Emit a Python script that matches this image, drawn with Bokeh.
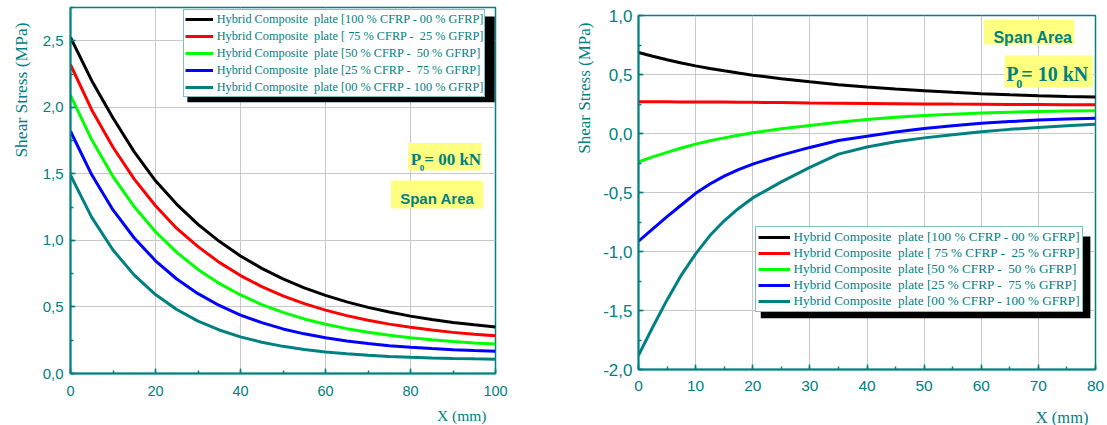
from bokeh.embed import file_html
from bokeh.layouts import row
from bokeh.models import (BoxAnnotation, CustomJSTickFormatter, Label, Range1d,
                          SingleIntervalTicker, Title)
from bokeh.plotting import figure
from bokeh.resources import INLINE

# ---------------------------------------------------------------- data
SERIES_LABELS = [
    "Hybrid Composite  plate [100 % CFRP - 00 % GFRP]",
    "Hybrid Composite  plate [ 75 % CFRP -  25 % GFRP]",
    "Hybrid Composite  plate [50 % CFRP -  50 % GFRP]",
    "Hybrid Composite  plate [25 % CFRP -  75 % GFRP]",
    "Hybrid Composite  plate [00 % CFRP - 100 % GFRP]",
]
SERIES_COLORS = ["#000000", "#ff0000", "#00ff00", "#0000ff", "#008080"]

# P0 = 00 kN, span area (x in mm, shear stress in MPa)
X_P00 = [0, 5, 10, 15, 20, 25, 30, 35, 40, 45, 50, 55, 60, 65, 70, 75, 80, 85, 90, 95, 100]
P00_CFRP100 = [2.525, 2.20, 1.92, 1.665, 1.448, 1.271, 1.121, 0.993, 0.883, 0.790, 0.711,
               0.644, 0.587, 0.538, 0.497, 0.462, 0.431, 0.406, 0.384, 0.366, 0.350]
P00_CFRP75 = [2.32, 1.98, 1.70, 1.46, 1.26, 1.09, 0.953, 0.835, 0.736, 0.653, 0.583,
              0.525, 0.476, 0.435, 0.400, 0.371, 0.347, 0.327, 0.309, 0.295, 0.283]
P00_CFRP50 = [2.09, 1.756, 1.48, 1.253, 1.065, 0.91, 0.782, 0.677, 0.59, 0.518, 0.459,
              0.41, 0.37, 0.337, 0.31, 0.287, 0.268, 0.253, 0.24, 0.23, 0.221]
P00_CFRP25 = [1.82, 1.493, 1.229, 1.018, 0.847, 0.71, 0.60, 0.511, 0.439, 0.382, 0.335,
              0.298, 0.268, 0.244, 0.225, 0.209, 0.197, 0.187, 0.178, 0.172, 0.167]
P00_CFRP0 = [1.49, 1.173, 0.928, 0.739, 0.593, 0.481, 0.394, 0.327, 0.275, 0.235, 0.204,
             0.18, 0.162, 0.148, 0.137, 0.128, 0.122, 0.117, 0.113, 0.11, 0.108]

# P0 = 10 kN, span area
X_P10 = [0, 2.5, 5, 7.5, 10, 12.5, 15, 17.5, 20, 25, 30, 35, 40, 45, 50, 55, 60, 65, 70, 75, 80]
P10_CFRP100 = [0.686, 0.655, 0.625, 0.598, 0.573, 0.551, 0.531, 0.512, 0.494, 0.464, 0.438,
               0.414, 0.394, 0.377, 0.363, 0.349, 0.337, 0.328, 0.320, 0.314, 0.310]
P10_CFRP75 = [0.270, 0.270, 0.269, 0.268, 0.268, 0.267, 0.266, 0.265, 0.264, 0.262, 0.259,
              0.257, 0.255, 0.253, 0.251, 0.249, 0.248, 0.246, 0.245, 0.244, 0.243]
P10_CFRP50 = [-0.240, -0.198, -0.160, -0.123, -0.090, -0.062, -0.037, -0.014, 0.006, 0.040, 0.068,
              0.095, 0.118, 0.137, 0.152, 0.164, 0.173, 0.180, 0.186, 0.190, 0.193]
P10_CFRP25 = [-0.913, -0.808, -0.704, -0.606, -0.507, -0.428, -0.361, -0.307, -0.259, -0.183, -0.118,
              -0.060, -0.023, 0.013, 0.043, 0.066, 0.086, 0.101, 0.114, 0.123, 0.130]
P10_CFRP0 = [-1.879, -1.64, -1.41, -1.20, -1.02, -0.865, -0.74, -0.635, -0.546, -0.41, -0.287,
             -0.175, -0.114, -0.070, -0.037, -0.010, 0.014, 0.035, 0.051, 0.065, 0.078]

Y_TITLE = "Shear Stress (MPa)"
X_TITLE = "X (mm)"

# ---------------------------------------------------------------- style
TEAL = "#008080"
GRID = "#c8c8c8"
YELLOW = "#ffff80"
SANS = "Liberation Sans"
SERIF = "Liberation Serif"

comma_fmt = CustomJSTickFormatter(code="return tick.toFixed(1).replace('.', ',');")


def style_axes(p, xstep, ystep, xtick_size, ytick_size, xstand, ystand):
    p.xaxis[0].ticker = SingleIntervalTicker(interval=xstep, num_minor_ticks=2)
    p.yaxis[0].ticker = SingleIntervalTicker(interval=ystep, num_minor_ticks=2)
    p.yaxis[0].formatter = comma_fmt
    for ax, size, stand in ((p.xaxis[0], xtick_size, xstand), (p.yaxis[0], ytick_size, ystand)):
        ax.axis_line_color = TEAL
        ax.axis_line_width = 2
        ax.major_tick_line_color = TEAL
        ax.major_tick_line_width = 1.5
        ax.minor_tick_line_color = TEAL
        ax.minor_tick_line_width = 1.5
        ax.major_tick_in = 5
        ax.major_tick_out = 0
        ax.minor_tick_in = 3
        ax.minor_tick_out = 0
        ax.major_label_text_color = TEAL
        ax.major_label_text_font = SANS
        ax.major_label_text_font_size = size
        ax.major_label_standoff = stand
    p.xgrid.grid_line_color = GRID
    p.ygrid.grid_line_color = GRID
    p.outline_line_color = TEAL
    p.outline_line_width = 1.5


def style_legend(p, font_size, glyph_w, row_h, gap, pad, loc):
    lg = p.legend[0]
    lg.location = loc
    lg.margin = 0
    lg.padding = pad
    lg.spacing = gap
    lg.glyph_width = glyph_w
    lg.glyph_height = row_h
    lg.label_height = row_h
    lg.label_standoff = 4
    lg.label_text_font = SERIF
    lg.label_text_font_size = font_size
    lg.label_text_color = TEAL
    lg.border_line_color = TEAL
    lg.border_line_width = 1.5
    lg.background_fill_color = "white"
    lg.background_fill_alpha = 1.0


def axis_titles(p, y_offset, y_standoff, y_size, x_offset, x_standoff, x_size):
    p.add_layout(Title(text=Y_TITLE, align="right", offset=y_offset, standoff=y_standoff,
                       text_font=SERIF, text_font_style="normal", text_font_size=y_size,
                       text_color=TEAL), "left")
    p.add_layout(Title(text=X_TITLE, align="right", offset=x_offset, standoff=x_standoff,
                       text_font=SERIF, text_font_style="normal", text_font_size=x_size,
                       text_color=TEAL), "below")


def load_label(p, x, y, load, size, sub_size, sub_dx, sub_dy, rest_dx):
    common = dict(x=x, y=y, text_font=SERIF, text_font_style="bold", text_color=TEAL,
                  text_align="left", text_baseline="alphabetic")
    p.add_layout(Label(text="P", text_font_size=size, **common))
    p.add_layout(Label(text="0", text_font_size=sub_size, x_offset=sub_dx, y_offset=sub_dy, **common))
    p.add_layout(Label(text="= %s kN" % load, text_font_size=size, x_offset=rest_dx, **common))


# ---------------------------------------------------------------- left panel: P0 = 00 kN
p1 = figure(frame_width=425, frame_height=366, x_range=Range1d(0, 100), y_range=Range1d(0, 2.75),
            output_backend="svg", toolbar_location=None, title=None, frame_align=False,
            min_border_left=68, min_border_right=27, min_border_top=7, min_border_bottom=45)
style_axes(p1, 20, 0.5, "14.5px", "15px", 12, 7)
axis_titles(p1, 15, 17, "17.5px", 9, 12, "15.5px")

# drop shadow behind the legend
p1.add_layout(BoxAnnotation(left=27.5, right=99.8, top=2.682, bottom=2.039,
                            fill_color="black", fill_alpha=1, line_color=None))

for ys, col, lab in zip([P00_CFRP100, P00_CFRP75, P00_CFRP50, P00_CFRP25, P00_CFRP0],
                        SERIES_COLORS, SERIES_LABELS):
    p1.line(X_P00, ys, line_color=col, line_width=3, legend_label=lab)
style_legend(p1, "12.3px", 28, 16, 1, 1, (112.7, 276))

p1.add_layout(BoxAnnotation(left=79.46, right=96.7, top=1.731, bottom=1.526,
                            fill_color=YELLOW, fill_alpha=1, line_color=None))
p1.add_layout(BoxAnnotation(left=75.4, right=97.1, top=1.451, bottom=1.239,
                            fill_color=YELLOW, fill_alpha=1, line_color=None))
load_label(p1, 80.07, 1.607, "00", "17px", "9px", 9, -8, 13.4)
p1.add_layout(Label(x=86.3, y=1.314, text="Span Area", text_font=SANS, text_font_style="bold",
                    text_font_size="15px", text_color=TEAL, text_align="center",
                    text_baseline="alphabetic"))

# ---------------------------------------------------------------- right panel: P0 = 10 kN
p2 = figure(frame_width=457, frame_height=354, x_range=Range1d(0, 80), y_range=Range1d(-2, 1),
            output_backend="svg", toolbar_location=None, title=None, frame_align=False,
            min_border_left=116, min_border_right=14, min_border_top=15, min_border_bottom=45)
style_axes(p2, 10, 0.5, "15.5px", "17px", 11, 6)
axis_titles(p2, 7, 13, "17px", 7, 24, "16.5px")

p2.add_layout(BoxAnnotation(left=21.4, right=79.1, top=-0.873, bottom=-1.565,
                            fill_color="black", fill_alpha=1, line_color=None))

for ys, col, lab in zip([P10_CFRP100, P10_CFRP75, P10_CFRP50, P10_CFRP25, P10_CFRP0],
                        SERIES_COLORS, SERIES_LABELS):
    p2.line(X_P10, ys, line_color=col, line_width=3, legend_label=lab)
style_legend(p2, "13.2px", 32, 16, 0, 2, (116.6, 56.7))

p2.add_layout(BoxAnnotation(left=60.5, right=76.3, top=0.964, bottom=0.754,
                            fill_color=YELLOW, fill_alpha=1, line_color=None))
p2.add_layout(BoxAnnotation(left=64.1, right=79.5, top=0.661, bottom=0.392,
                            fill_color=YELLOW, fill_alpha=1, line_color=None))
p2.add_layout(Label(x=69.06, y=0.816, text="Span Area", text_font=SANS, text_font_style="bold",
                    text_font_size="16px", text_color=TEAL, text_align="center",
                    text_baseline="alphabetic"))
load_label(p2, 64.39, 0.506, "10", "20px", "12px", 10, -10, 15)

layout = row(p1, p2)
open("out.html", "w").write(file_html(layout, INLINE))
